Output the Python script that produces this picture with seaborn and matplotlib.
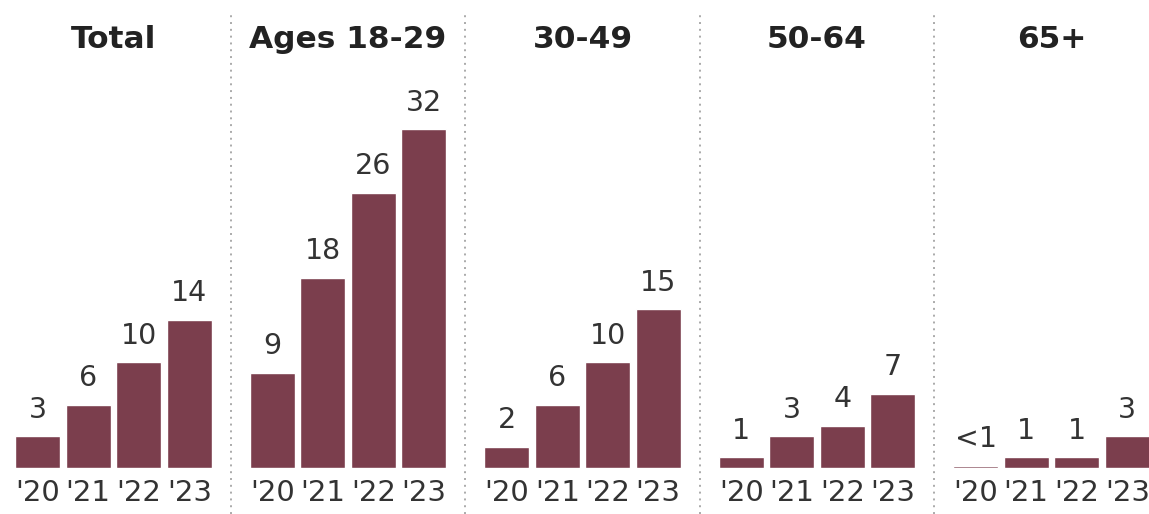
import matplotlib
matplotlib.use('Agg')
import matplotlib.pyplot as plt
import seaborn as sns
import pandas as pd
from matplotlib.lines import Line2D

# Data (share of adults, %)
years = ["'20", "'21", "'22", "'23"]
titles = ['Total', 'Ages 18-29', '30-49', '50-64', '65+']
total = [3, 6, 10, 14]
ages_18_29 = [9, 18, 26, 32]
ages_30_49 = [2, 6, 10, 15]
ages_50_64 = [1, 3, 4, 7]
ages_65_plus = [0.2, 1, 1, 3]  # '20 is "<1"
labels_65_plus = ['<1', '1', '1', '3']

series = [total, ages_18_29, ages_30_49, ages_50_64, ages_65_plus]

bar_color = '#7b3e4d'
text_color = '#333333'

sns.set_style('white')
plt.rcParams['font.family'] = ['DejaVu Sans']

fig = plt.figure(figsize=(11.49, 5.14), dpi=100)
W, H = 1149, 514

left0 = 12.5
step = 234.5
ax_w = 202
bottom = 468
ax_h = 381  # 36 units

for i, (title, vals) in enumerate(zip(titles, series)):
    left = left0 + i * step
    ax = fig.add_axes([left / W, (H - bottom) / H, ax_w / W, ax_h / H])
    df = pd.DataFrame({'year': years, 'value': vals})
    sns.barplot(data=df, x='year', y='value', color=bar_color, saturation=1,
                width=0.9, ax=ax, errorbar=None)
    if title == '65+':
        labels = labels_65_plus
    else:
        labels = [str(v) for v in vals]
    ax.bar_label(ax.containers[0], labels=labels, padding=9,
                 fontsize=20.5, color=text_color)
    ax.set_ylim(0, 36)
    ax.set_xlim(-0.5, 3.5)
    ax.set_title(title, fontsize=22.5, fontweight='bold', color='#222222', pad=28)
    ax.set_xlabel('')
    ax.set_ylabel('')
    ax.set_yticks([])
    ax.tick_params(axis='x', length=0, pad=8, labelsize=21, labelcolor=text_color)
    for s in ax.spines.values():
        s.set_visible(False)

# dotted separators between panels
for i in range(4):
    x = (left0 + i * step + ax_w + left0 + (i + 1) * step) / 2 / W
    fig.add_artist(Line2D([x, x], [0.0, 0.975], transform=fig.transFigure,
                          color='#aaaaaa', linestyle=(0, (1, 2.5)), linewidth=1.4))

fig.savefig('out.png', dpi=100)
